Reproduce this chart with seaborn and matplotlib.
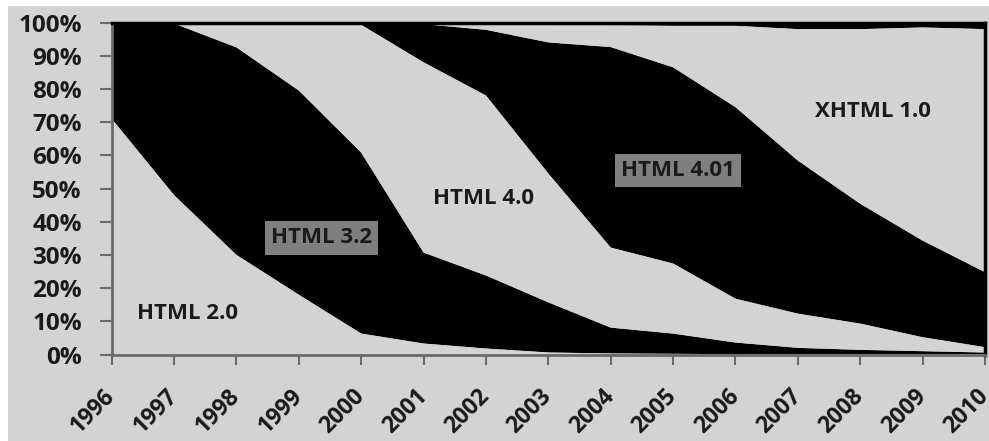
import matplotlib
matplotlib.use("Agg")
import matplotlib.pyplot as plt
from matplotlib.patches import Rectangle
import pandas as pd
import seaborn as sns
import seaborn.objects as so

# Share of pages by HTML version (percent of each year's total)
years = list(range(1996, 2011))
html_20 = [71.0, 48.0, 30.0, 18.0, 6.3, 3.3, 1.8, 0.6, 0.3, 0.2, 0.1, 0.1, 0.1, 0.1, 0.1]
html_32 = [29.0, 51.7, 62.5, 61.5, 54.5, 27.4, 22.0, 15.1, 7.8, 6.1, 3.5, 1.9, 1.3, 0.9, 0.5]
html_40 = [0.0, 0.3, 7.5, 20.5, 38.5, 57.3, 54.2, 38.8, 24.1, 21.1, 13.2, 10.3, 7.9, 4.2, 1.6]
html_401 = [0.0, 0.0, 0.0, 0.0, 0.7, 11.5, 19.8, 39.5, 60.4, 59.1, 57.7, 46.1, 36.1, 29.1, 22.6]
xhtml_10 = [0.0, 0.0, 0.0, 0.0, 0.0, 0.3, 1.7, 5.2, 6.6, 12.5, 24.5, 39.6, 52.6, 64.2, 73.2]
xhtml_11 = [0.0, 0.0, 0.0, 0.0, 0.0, 0.2, 0.5, 0.8, 0.8, 1.0, 1.0, 2.0, 2.0, 1.5, 2.0]

versions = ["HTML 2.0", "HTML 3.2", "HTML 4.0", "HTML 4.01", "XHTML 1.0", "XHTML 1.1"]
series = [html_20, html_32, html_40, html_401, xhtml_10, xhtml_11]

LIGHT = "#d3d3d3"
DARK = "#000000"
fills = [LIGHT, DARK, LIGHT, DARK, LIGHT, DARK]

rows = []
for name, vals, fc in zip(versions, series, fills):
    for yr, v in zip(years, vals):
        rows.append({"year": yr, "share": v, "version": name, "fill": fc})
df = pd.DataFrame(rows)

sns.set_theme(style="white")
plt.rcParams["font.family"] = ["Open Sans", "DejaVu Sans"]

W, H = 989, 441
fig = plt.figure(figsize=(W / 100, H / 100), dpi=100)
fig.patch.set_facecolor("white")
fig.add_artist(Rectangle((8 / W, 0), 1 - 8 / W, 1 - 6 / H, transform=fig.transFigure,
                         facecolor=LIGHT, edgecolor="none", zorder=0))

ax = fig.add_axes([111.7 / W, 1 - 354.5 / H, (985 - 111.7) / W, (354.5 - 22.5) / H])
ax.set_facecolor(LIGHT)

(
    so.Plot(df, x="year", y="share", color="fill", group="version")
    .add(so.Area(alpha=1, edgewidth=0), so.Stack())
    .scale(color=None)
    .on(ax)
    .plot()
)

ax.set_xlim(1996, 2010)
ax.set_ylim(0, 100)
ax.set_xlabel("")
ax.set_ylabel("")
ax.grid(False)

TICK_TEXT = "#1a1a1a"
ax.set_yticks(range(0, 101, 10))
ax.set_yticklabels([f"{v}%" for v in range(0, 101, 10)], fontsize=17.5, fontweight="bold",
                   color=TICK_TEXT)
ax.set_xticks(years)
ax.set_xticklabels([str(y) for y in years], rotation=45, ha="right", va="center",
                   rotation_mode="anchor", fontsize=16.5, fontweight="bold", color=TICK_TEXT)
ax.tick_params(axis="y", which="major", direction="out", length=8.5, width=1.5,
               color="#6a6a6a", left=True, pad=13)
ax.tick_params(axis="x", which="major", direction="out", length=7.5, width=1.5,
               color="#6a6a6a", bottom=True, pad=20)

for side in ("left", "bottom"):
    ax.spines[side].set_color("#6a6a6a")
    ax.spines[side].set_linewidth(2)
for side in ("top", "right"):
    ax.spines[side].set_color("#000000")
    ax.spines[side].set_linewidth(2.5)
for s in ax.spines.values():
    s.set_visible(True)
    s.set_zorder(5)

label_style = dict(fontsize=16, fontweight="bold", color="#1a1a1a",
                   ha="center", va="center", zorder=6)
box = dict(boxstyle="square,pad=0.28", facecolor="#7f7f7f", edgecolor="none")
ax.text(1997.22, 12.4, "HTML 2.0", **label_style)
ax.text(1999.36, 35.1, "HTML 3.2", bbox=box, **label_style)
ax.text(2001.96, 47.0, "HTML 4.0", **label_style)
ax.text(2005.08, 55.4, "HTML 4.01", bbox=box, **label_style)
ax.text(2008.2, 73.2, "XHTML 1.0", **label_style)

fig.savefig("out.png", dpi=100, facecolor=fig.get_facecolor())
